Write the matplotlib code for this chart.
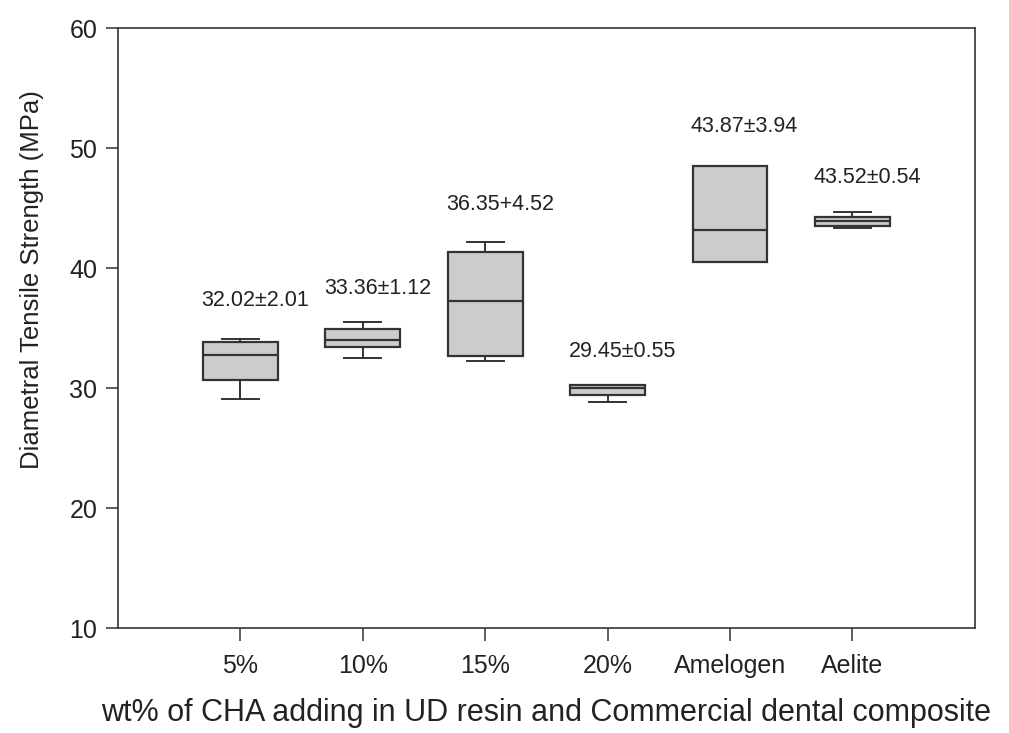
import matplotlib.pyplot as plt

plt.rcParams['font.family'] = ['Liberation Sans', 'DejaVu Sans']

# data
groups = ["5%", "10%", "15%", "20%", "Amelogen", "Aelite"]
whisker_low = [29.08, 32.52, 32.25, 28.86, 40.53, 43.30]
box_low = [30.67, 33.39, 32.67, 29.42, 40.53, 43.50]
medians = [32.75, 34.03, 37.28, 29.97, 43.17, 43.94]
box_high = [33.86, 34.94, 41.36, 30.25, 48.50, 44.28]
whisker_high = [34.06, 35.47, 42.14, 30.28, 48.50, 44.64]

labels = ["32.02\u00b12.01", "33.36\u00b11.12", "36.35+4.52",
          "29.45\u00b10.55", "43.87\u00b13.94", "43.52\u00b10.54"]
label_y = [37.33, 38.33, 45.33, 33.08, 51.83, 47.58]

stats = []
for i, g in enumerate(groups):
    stats.append(dict(label=g, whislo=whisker_low[i], q1=box_low[i],
                      med=medians[i], q3=box_high[i], whishi=whisker_high[i],
                      fliers=[]))

fig = plt.figure(figsize=(10.09, 7.33), dpi=100)
ax = fig.add_axes([0.117, 0.1432, 0.849, 0.8186])

edge = "#333333"
pos = list(range(1, len(groups) + 1))
ax.bxp(stats, positions=pos, widths=0.61, capwidths=0.3, patch_artist=True,
       showfliers=False,
       boxprops=dict(facecolor="#cccccc", edgecolor=edge, linewidth=1.6),
       medianprops=dict(color=edge, linewidth=1.6),
       whiskerprops=dict(color=edge, linewidth=1.4),
       capprops=dict(color=edge, linewidth=1.4))

for p, txt, y in zip(pos, labels, label_y):
    ax.text(p + 0.12, y, txt, ha="center", va="center", fontsize=15.5,
            color="#222222")

ax.set_xlim(0, 7)
ax.set_ylim(10, 60)
ax.set_yticks([10, 20, 30, 40, 50, 60])
ax.set_xticks(pos)
ax.set_xticklabels(groups)
ax.tick_params(axis="both", direction="out", length=9, width=1.1,
               colors=edge, labelsize=18, labelcolor="#222222")
ax.tick_params(axis="x", pad=10)
ax.tick_params(axis="y", pad=6)
for s in ax.spines.values():
    s.set_color(edge)
    s.set_linewidth(1.2)

ax.set_ylabel("Diametral Tensile Strength (MPa)", fontsize=18.5,
              color="#222222")
ax.yaxis.set_label_coords(-0.087, 0.58)
ax.set_xlabel("wt% of CHA adding in UD resin and Commercial dental composite",
              fontsize=22, color="#222222", labelpad=14)

fig.savefig("out.png", dpi=100)
